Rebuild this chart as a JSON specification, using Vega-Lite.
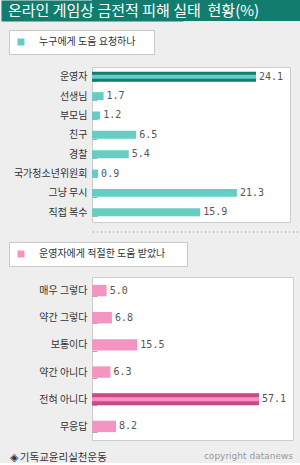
{
  "$schema": "https://vega.github.io/schema/vega-lite/v6.json",
  "background": "#eeeeee",
  "padding": 0,
  "spacing": 8,
  "columns": 1,
  "align": "none",
  "datasets": {
    "banner": [{"title": "온라인 게임상 금전적 피해 실태\u00a0\u00a0현황(%)"}],
    "help": [
      {"cat": "운영자", "pct": 24.1, "series": "누구에게 도움 요청하나"},
      {"cat": "선생님", "pct": 1.7, "series": "누구에게 도움 요청하나"},
      {"cat": "부모님", "pct": 1.2, "series": "누구에게 도움 요청하나"},
      {"cat": "친구", "pct": 6.5, "series": "누구에게 도움 요청하나"},
      {"cat": "경찰", "pct": 5.4, "series": "누구에게 도움 요청하나"},
      {"cat": "국가청소년위원회", "pct": 0.9, "series": "누구에게 도움 요청하나"},
      {"cat": "그냥 무시", "pct": 21.3, "series": "누구에게 도움 요청하나"},
      {"cat": "직접 복수", "pct": 15.9, "series": "누구에게 도움 요청하나"}
    ],
    "divider": [{"d": 0}],
    "adequate": [
      {"cat": "매우 그렇다", "pct": 5.0, "series": "운영자에게 적절한 도움 받았나"},
      {"cat": "약간 그렇다", "pct": 6.8, "series": "운영자에게 적절한 도움 받았나"},
      {"cat": "보통이다", "pct": 15.5, "series": "운영자에게 적절한 도움 받았나"},
      {"cat": "약간 아니다", "pct": 6.3, "series": "운영자에게 적절한 도움 받았나"},
      {"cat": "전혀 아니다", "pct": 57.1, "series": "운영자에게 적절한 도움 받았나"},
      {"cat": "무응답", "pct": 8.2, "series": "운영자에게 적절한 도움 받았나"}
    ]
  },
  "resolve": {"scale": {"color": "independent"}, "legend": {"color": "independent"}},
  "concat": [
    {
      "width": 209,
      "height": 21,
      "view": {"fill": "#127d6e", "stroke": null},
      "data": {"name": "banner"},
      "mark": {"type": "text", "x": -84, "align": "left", "baseline": "middle", "color": "white", "font": "Noto Sans CJK KR", "fontSize": 15},
      "encoding": {
        "text": {"field": "title", "type": "nominal"},
        "y": {"field": "title", "type": "nominal", "scale": {"paddingInner": 0, "paddingOuter": 0},
          "axis": {"title": null, "labels": false, "ticks": false, "grid": false, "domain": true, "domainColor": "#127d6e", "domainWidth": 182, "domainCap": "butt", "minExtent": 91, "maxExtent": 91}}
      }
    },
    {
      "width": 198,
      "height": 155,
      "view": {"fill": "white", "stroke": "#cccccc"},
      "data": {"name": "help"},
      "encoding": {
        "y": {
          "field": "cat", "type": "nominal", "sort": null,
          "scale": {"paddingInner": 0.59, "paddingOuter": 0.3},
          "axis": {"title": null, "domain": false, "tickBand": "extent", "tickSize": -5, "tickColor": "#aaaaaa", "labelPadding": 10, "labelFont": "Noto Sans CJK KR", "labelFontSize": 10, "labelColor": "#333333", "minExtent": 91, "maxExtent": 91}
        },
        "x": {"field": "pct", "type": "quantitative", "scale": {"domain": [0, 29.1]}, "axis": null}
      },
      "layer": [
        {
          "mark": {"type": "bar"},
          "encoding": {
            "color": {
              "field": "series", "type": "nominal",
              "scale": {"range": ["#66ccc4"]},
              "legend": {"title": "\u00a0", "titleOrient": "right", "titlePadding": 12, "titleFontSize": 10, "orient": "none", "legendX": -83, "legendY": -37, "fillColor": "white", "strokeColor": "#c8c8c8", "padding": 7, "symbolType": "square", "symbolSize": 49, "symbolStrokeWidth": 0, "labelFont": "Noto Sans CJK KR", "labelFontSize": 10, "labelColor": "#333333", "labelOffset": 13}
            }
          }
        },
        {
          "transform": [{"filter": "datum.cat === '운영자'"}],
          "mark": {"type": "bar", "size": 10, "color": "#0f7d6e"}
        },
        {
          "transform": [{"filter": "datum.cat === '운영자'"}],
          "mark": {"type": "bar", "size": 4, "color": "#66ccc4"}
        },
        {
          "mark": {"type": "text", "align": "left", "baseline": "middle", "dx": 3, "font": "DejaVu Sans Mono", "fontSize": 10, "color": "#555555"},
          "encoding": {"text": {"field": "pct", "type": "quantitative", "format": ".1f"}}
        }
      ]
    },
    {
      "width": 282,
      "height": 1,
      "view": {"stroke": null},
      "data": {"name": "divider"},
      "mark": {"type": "rule", "color": "#888888", "strokeDash": [1, 3], "strokeWidth": 1},
      "encoding": {
        "y": {"field": "d", "type": "quantitative", "scale": {"domain": [0, 1]},
          "axis": {"labels": false, "ticks": false, "domain": false, "grid": false, "title": null, "minExtent": 8, "maxExtent": 8}}
      }
    },
    {
      "width": 201,
      "height": 163,
      "view": {"fill": "white", "stroke": "#cccccc"},
      "data": {"name": "adequate"},
      "title": {"text": "copyright datanews", "orient": "bottom", "anchor": "end", "offset": -11, "font": "DejaVu Sans", "fontSize": 9, "fontWeight": "normal", "color": "#999999"},
      "encoding": {
        "y": {
          "field": "cat", "type": "nominal", "sort": null,
          "scale": {"paddingInner": 0.58, "paddingOuter": 0.29},
          "axis": {"title": null, "domain": false, "tickBand": "extent", "tickSize": -5, "tickColor": "#aaaaaa", "labelPadding": 10, "labelFont": "Noto Sans CJK KR", "labelFontSize": 10, "labelColor": "#333333", "minExtent": 91, "maxExtent": 91}
        },
        "x": {
          "field": "pct", "type": "quantitative", "scale": {"domain": [0, 68.7]},
          "axis": {"domain": false, "ticks": false, "labels": false, "grid": false, "title": "◈ 기독교윤리실천운동", "titleFont": "Noto Sans CJK KR", "titleFontSize": 10.5, "titleFontWeight": "normal", "titleColor": "#333333", "titleAnchor": "start", "titleAlign": "left", "titleX": -83, "titleY": 20, "titleBaseline": "alphabetic"}
        }
      },
      "layer": [
        {
          "mark": {"type": "bar"},
          "encoding": {
            "color": {
              "field": "series", "type": "nominal",
              "scale": {"range": ["#f394c1"]},
              "legend": {"title": "\u00a0", "titleOrient": "right", "titlePadding": 15, "titleFontSize": 10, "orient": "none", "legendX": -83, "legendY": -35, "fillColor": "white", "strokeColor": "#c8c8c8", "padding": 7, "symbolType": "square", "symbolSize": 49, "symbolStrokeWidth": 0, "labelFont": "Noto Sans CJK KR", "labelFontSize": 10, "labelColor": "#333333", "labelOffset": 13}
            }
          }
        },
        {
          "transform": [{"filter": "datum.cat === '전혀 아니다'"}],
          "mark": {"type": "bar", "size": 12, "color": "#c94a84"}
        },
        {
          "transform": [{"filter": "datum.cat === '전혀 아니다'"}],
          "mark": {"type": "bar", "size": 4, "color": "#f394c1"}
        },
        {
          "mark": {"type": "text", "align": "left", "baseline": "middle", "dx": 3, "font": "DejaVu Sans Mono", "fontSize": 10, "color": "#555555"},
          "encoding": {"text": {"field": "pct", "type": "quantitative", "format": ".1f"}}
        }
      ]
    }
  ]
}
